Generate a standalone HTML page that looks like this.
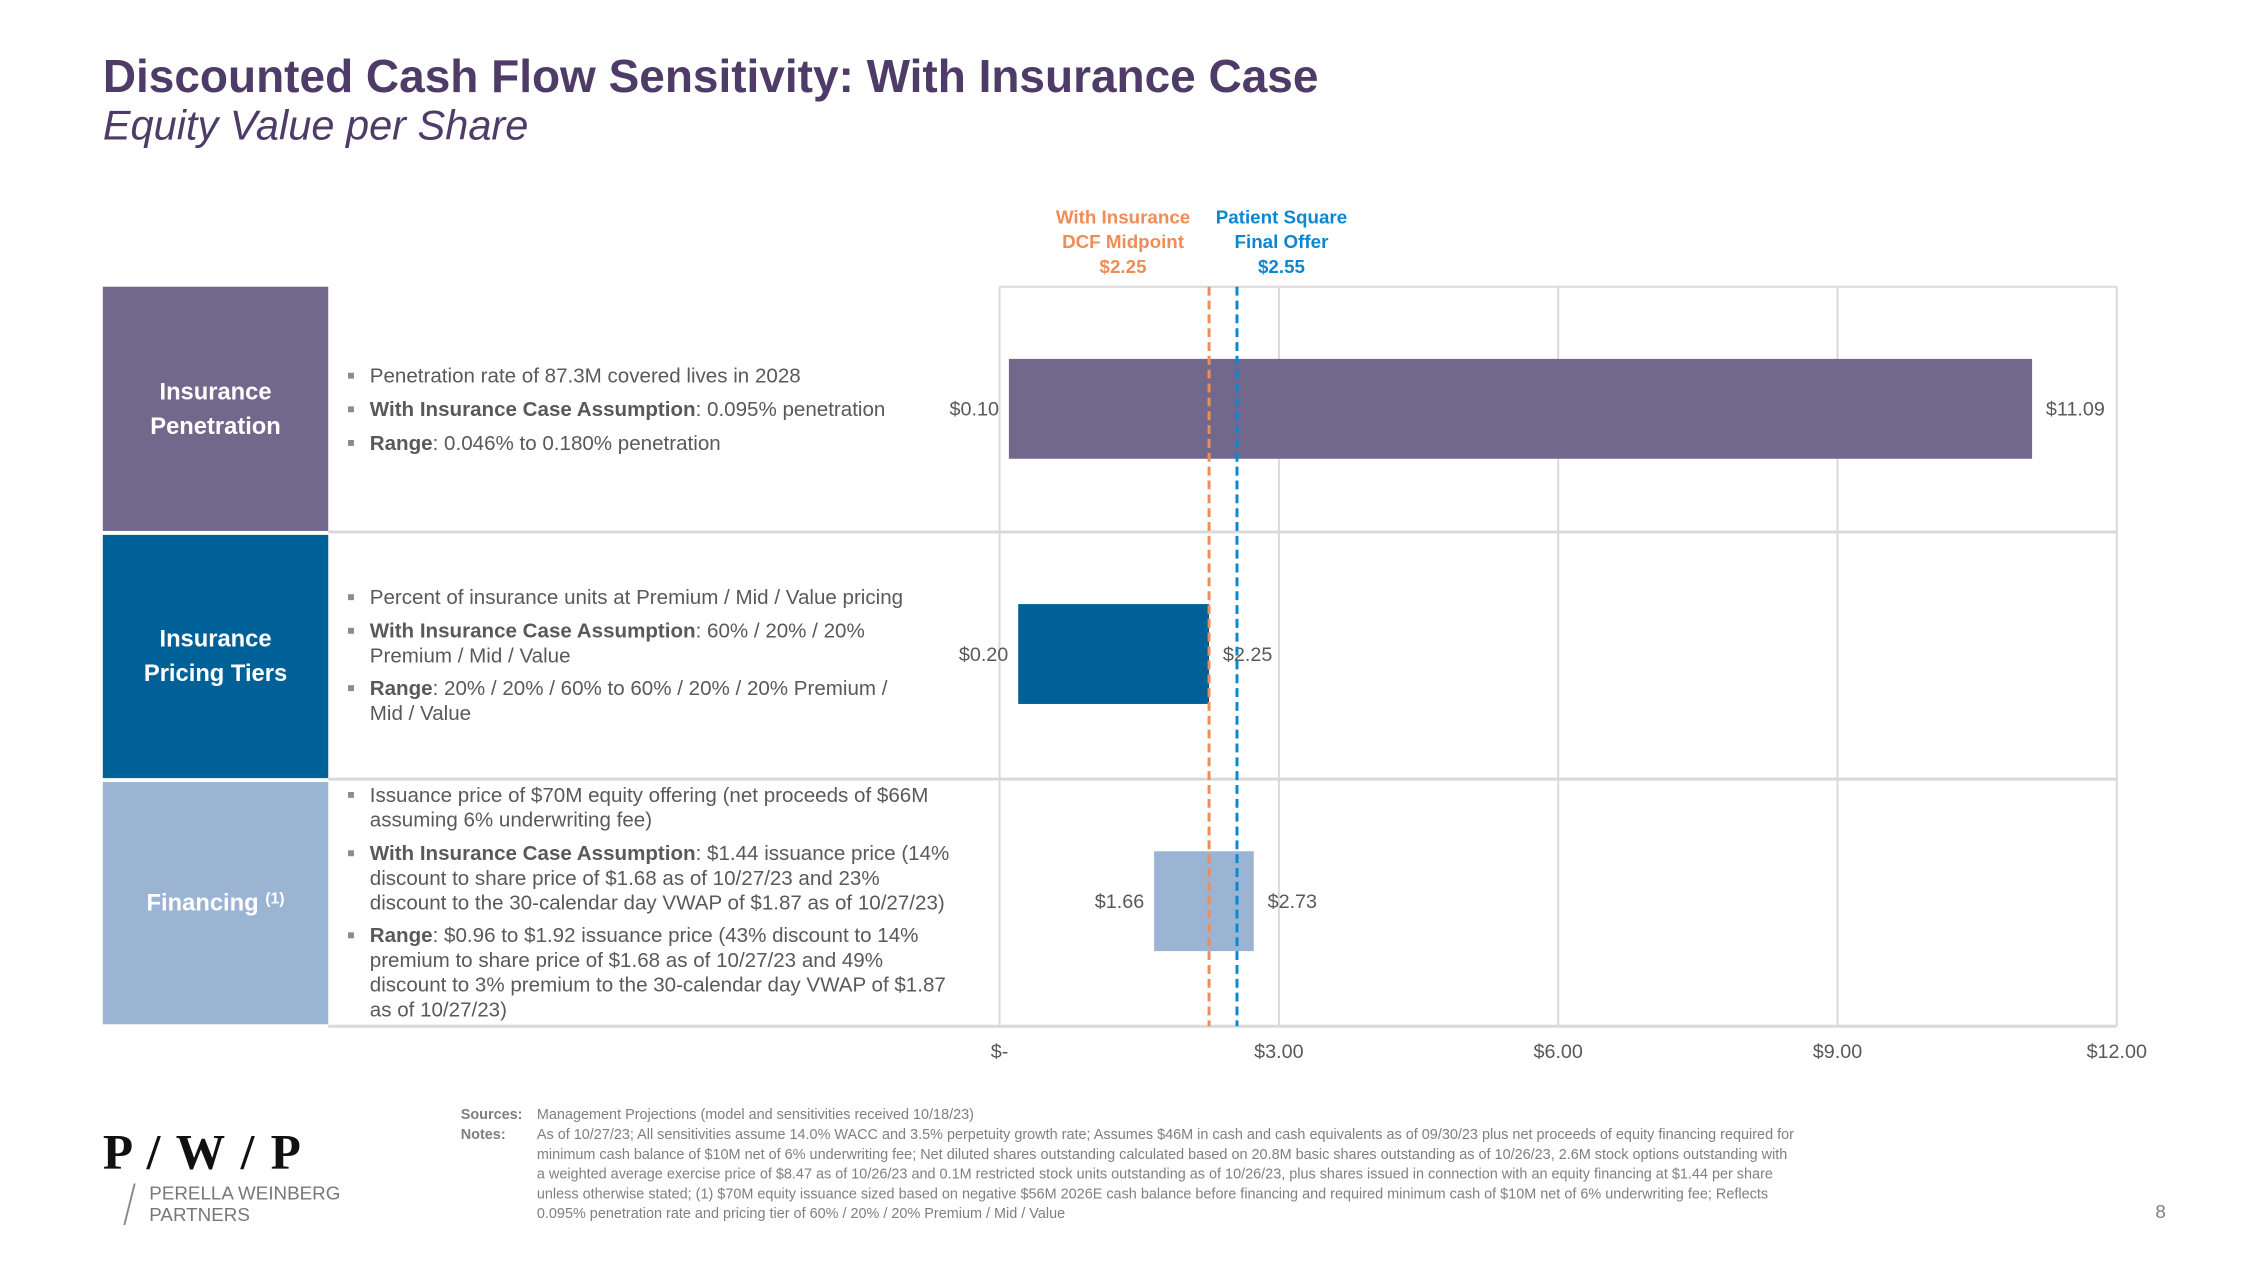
<!DOCTYPE html>
<html><head><meta charset="utf-8">
<style>
*{margin:0;padding:0;box-sizing:border-box}
body{width:2267px;height:1275px;background:#fff;position:relative;overflow:hidden;font-family:"Liberation Sans",Arial,sans-serif;color:#595959}
#wrap{position:absolute;left:0;top:0;width:2267px;height:1275px;transform:scale(0.9887);transform-origin:0 0}
.abs{position:absolute}
.title{left:104px;top:50px;font-size:46.5px;font-weight:bold;color:#4E3B68;white-space:nowrap}
.sub{left:104px;top:103px;font-size:42px;font-style:italic;color:#4E3B68;white-space:nowrap}
.lbl{left:104px;width:228px;color:#fff;font-weight:bold;font-size:24px;line-height:35px;text-align:center;display:flex;align-items:center;justify-content:center}
.b{position:absolute;left:374px;font-size:20.8px;line-height:25px;color:#595959;width:610px}
.b:before{content:"";position:absolute;left:-22px;top:9px;width:6px;height:6px;background:#8c8c8c}
.b strong{color:#595959}
.foot{font-size:14.6px;color:#7f7f7f;line-height:20px}
</style></head>
<body>
<div id="wrap">
<div class="abs title">Discounted Cash Flow Sensitivity: With Insurance Case</div>
<div class="abs sub">Equity Value per Share</div>

<div class="abs lbl" style="top:290px;height:247px;background:#72688C">Insurance<br>Penetration</div>
<div class="abs lbl" style="top:541px;height:246px;background:#006199">Insurance<br>Pricing Tiers</div>
<div class="abs lbl" style="top:791px;height:245px;background:#9CB4D3">Financing&nbsp;<sup style="font-size:16px;position:relative;top:-4px">(1)</sup></div>

<div class="b" style="top:368px">Penetration rate of 87.3M covered lives in 2028</div>
<div class="b" style="top:402px"><strong>With Insurance Case Assumption</strong>: 0.095% penetration</div>
<div class="b" style="top:436px"><strong>Range</strong>: 0.046% to 0.180% penetration</div>

<div class="b" style="top:592px">Percent of insurance units at Premium / Mid / Value pricing</div>
<div class="b" style="top:626px;width:540px"><strong>With Insurance Case Assumption</strong>: 60% / 20% / 20% Premium / Mid / Value</div>
<div class="b" style="top:684px;width:560px"><strong>Range</strong>: 20% / 20% / 60% to 60% / 20% / 20% Premium /<br>Mid / Value</div>

<div class="b" style="top:792px">Issuance price of $70M equity offering (net proceeds of $66M<br>assuming 6% underwriting fee)</div>
<div class="b" style="top:851px;width:640px"><strong>With Insurance Case Assumption</strong>: $1.44 issuance price (14%<br>discount to share price of $1.68 as of 10/27/23 and 23%<br>discount to the 30-calendar day VWAP of $1.87 as of 10/27/23)</div>
<div class="b" style="top:934px;width:640px"><strong>Range</strong>: $0.96 to $1.92 issuance price (43% discount to 14%<br>premium to share price of $1.68 as of 10/27/23 and 49%<br>discount to 3% premium to the 30-calendar day VWAP of $1.87<br>as of 10/27/23)</div>

<svg class="abs" style="left:0;top:0" width="2267" height="1275" id="chart"></svg>

<div class="abs" style="left:104px;top:1136px;font-family:'Liberation Serif',serif;font-size:50px;font-weight:bold;color:#111;letter-spacing:2px">P / W / P</div>
<div class="abs" style="left:130px;top:1197px;width:2px;height:42px;background:#888;transform:skewX(-14deg)"></div>
<div class="abs" style="left:151px;top:1197px;font-size:19px;color:#777;line-height:22px">PERELLA WEINBERG<br>PARTNERS</div>

<div class="abs foot" style="left:466px;top:1118px;font-weight:bold">Sources:</div>
<div class="abs foot" style="left:543px;top:1118px">Management Projections (model and sensitivities received 10/18/23)</div>
<div class="abs foot" style="left:466px;top:1138px;font-weight:bold">Notes:</div>
<div class="abs foot" style="left:543px;top:1138px;width:1400px;white-space:nowrap">As of 10/27/23; All sensitivities assume 14.0% WACC and 3.5% perpetuity growth rate; Assumes $46M in cash and cash equivalents as of 09/30/23 plus net proceeds of equity financing required for<br>minimum cash balance of $10M net of 6% underwriting fee; Net diluted shares outstanding calculated based on 20.8M basic shares outstanding as of 10/26/23, 2.6M stock options outstanding with<br>a weighted average exercise price of $8.47 as of 10/26/23 and 0.1M restricted stock units outstanding as of 10/26/23, plus shares issued in connection with an equity financing at $1.44 per share<br>unless otherwise stated; (1) $70M equity issuance sized based on negative $56M 2026E cash balance before financing and required minimum cash of $10M net of 6% underwriting fee; Reflects<br>0.095% penetration rate and pricing tier of 60% / 20% / 20% Premium / Mid / Value</div>
<div class="abs" style="left:2180px;top:1216px;font-size:19px;color:#7f7f7f">8</div>
</div>

<script>
const categories = ["Insurance Penetration", "Insurance Pricing Tiers", "Financing"];
const lowValues = [0.10, 0.20, 1.66];
const highValues = [11.09, 2.25, 2.73];
const barColors = ["#72688C", "#006199", "#9CB4D3"];
const tickValues = [0, 3, 6, 9, 12];
const tickLabels = ["$-", "$3.00", "$6.00", "$9.00", "$12.00"];
const refValues = [2.25, 2.55];
const refLabels = [["With Insurance","DCF Midpoint","$2.25"],["Patient Square","Final Offer","$2.55"]];
const refColors = ["#F08C55", "#0A87D2"];

const svg = document.getElementById('chart');
const NS = 'http://www.w3.org/2000/svg';
const X0 = 1011, X1 = 2141, TOP = 290, BOT = 1038;
const rowTop = [290, 538, 788];
function x(v){ return X0 + (v - tickValues[0]) / (tickValues[tickValues.length-1] - tickValues[0]) * (X1 - X0); }
function mk(tag, attrs){ const e = document.createElementNS(NS, tag); for (const k in attrs) e.setAttribute(k, attrs[k]); svg.appendChild(e); return e; }

tickValues.forEach((t, i) => {
  const g = mk('line', {x1:x(t), x2:x(t), y1:TOP, y2:BOT, stroke:'#d9d9d9', 'stroke-width':2});
  
  
  const tl = mk('text', {x:x(t), y:1070, 'text-anchor':'middle', 'font-size':20, fill:'#595959', 'font-family':'Liberation Sans, sans-serif'});
  tl.textContent = tickLabels[i];
  
  
});
[TOP, 538, 788, BOT].forEach((yy, i) => {
  const l = mk('line', {x1: i===0 ? X0 : 332, x2:X1, y1:yy, y2:yy, stroke:'#d9d9d9', 'stroke-width': i===0?2:3});
  
  
});

categories.forEach((c, i) => {
  const y0 = rowTop[i] + 73, h = 101;
  const r = mk('rect', {x:x(lowValues[i]), y:y0, width:x(highValues[i]) - x(lowValues[i]), height:h, fill:barColors[i]});
  
  
  const lo = mk('text', {x:x(lowValues[i]) - 10, y:y0 + h/2 + 7, 'text-anchor':'end', 'font-size':20, fill:'#595959', 'font-family':'Liberation Sans, sans-serif'});
  lo.textContent = '$' + lowValues[i].toFixed(2);
  
  
  const hi = mk('text', {x:x(highValues[i]) + 14, y:y0 + h/2 + 7, 'text-anchor':'start', 'font-size':20, fill:'#595959', 'font-family':'Liberation Sans, sans-serif'});
  hi.textContent = '$' + highValues[i].toFixed(2);
  
  
});

refValues.forEach((v, i) => {
  const l = mk('line', {x1:x(v), x2:x(v), y1:TOP, y2:BOT, stroke:refColors[i], 'stroke-width':3, 'stroke-dasharray':'9,5'});
  
  
  refLabels[i].forEach((s, j) => {
    const t = mk('text', {x:x(v) + (i===0 ? -87 : 45), y:226 + j*25, 'text-anchor':'middle', 'font-size':19, 'font-weight':'bold', fill:refColors[i], 'font-family':'Liberation Sans, sans-serif'});
    t.textContent = s;
    
    
  });
});
</script>
</body></html>
